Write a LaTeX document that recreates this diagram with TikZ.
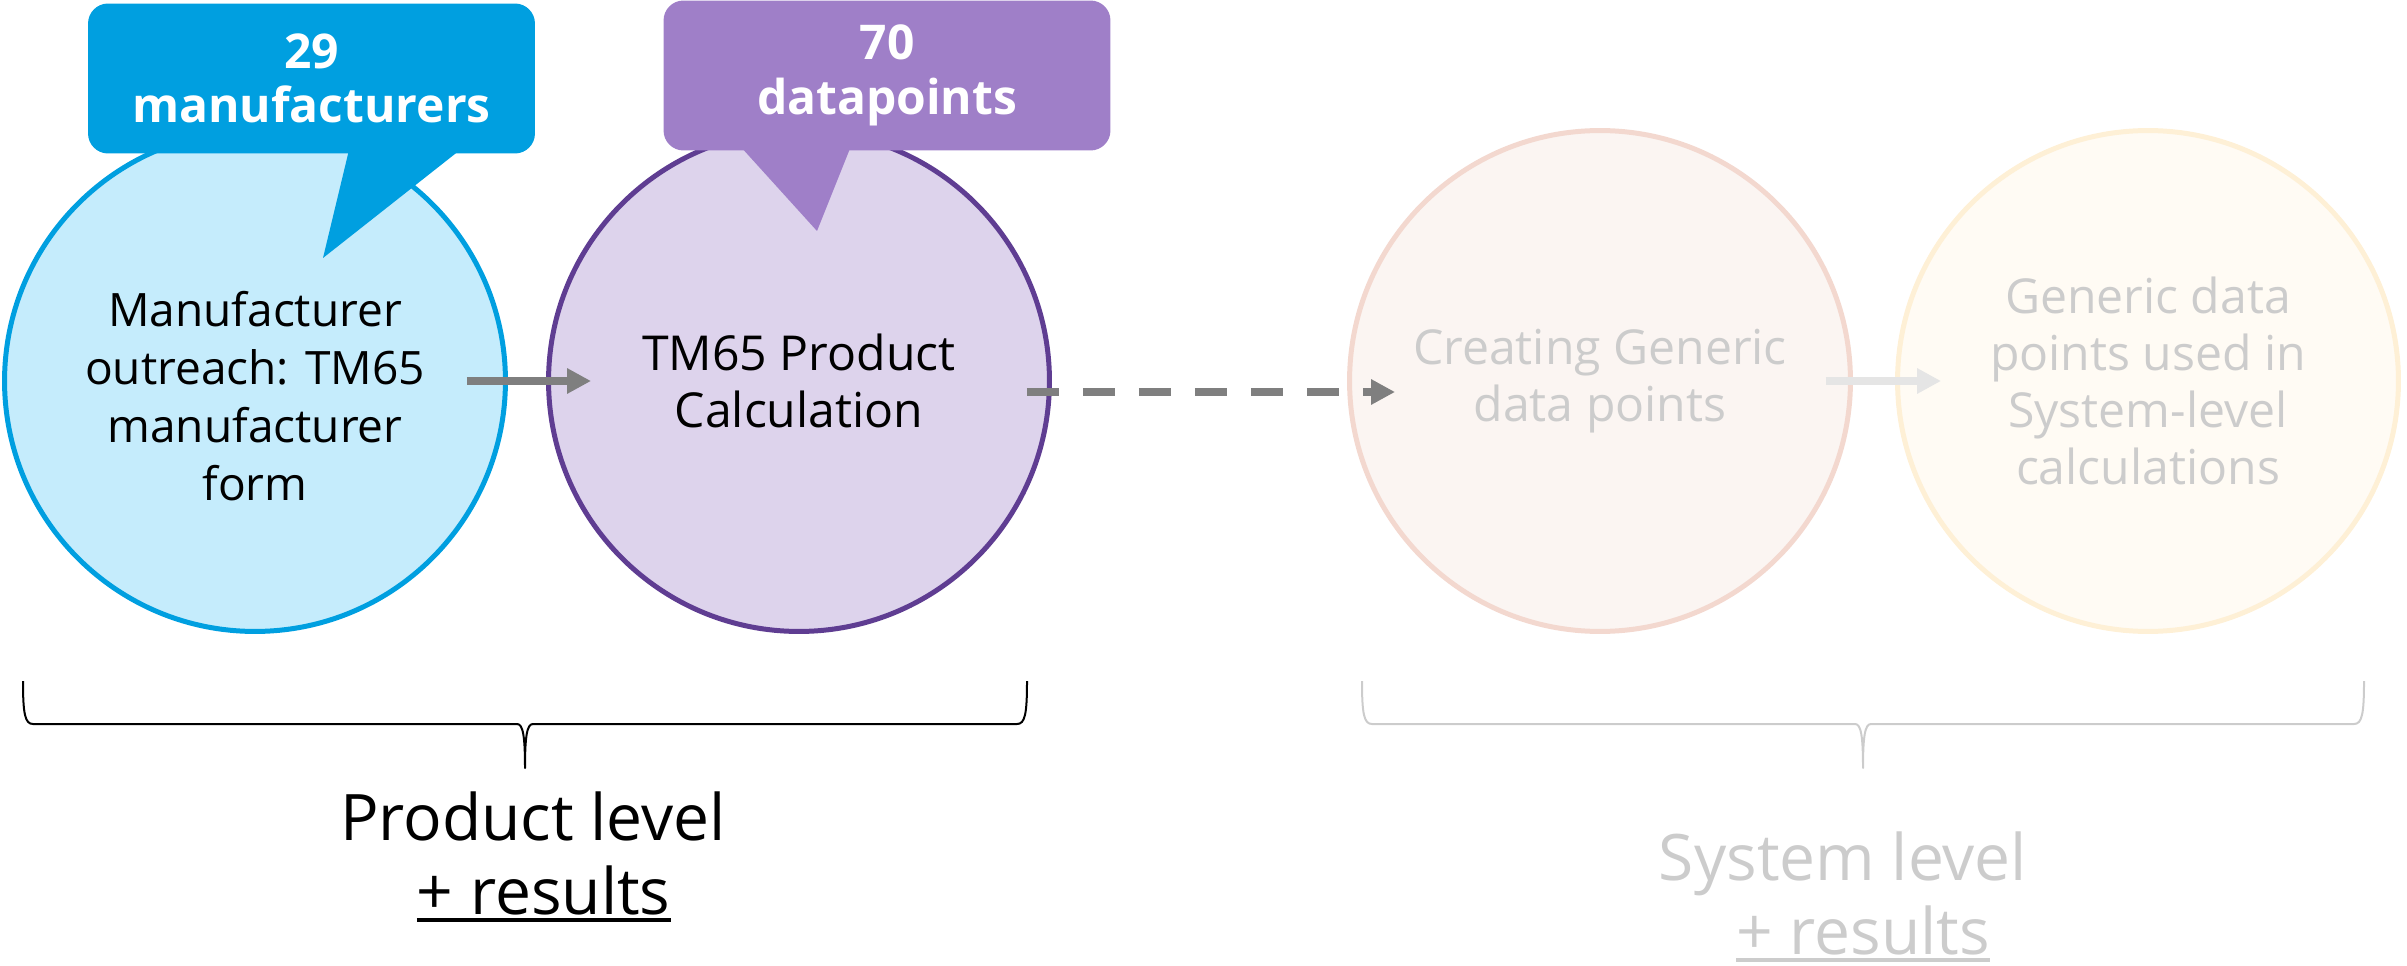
\documentclass[tikz,border=0pt]{standalone}
\usepackage{fontspec}
\setmainfont{Open Sans}
\usetikzlibrary{arrows.meta}
\definecolor{mblue}{HTML}{009FE0}
\definecolor{mbluefill}{HTML}{C5ECFC}
\definecolor{mpurple}{HTML}{5F3D92}
\definecolor{mpurplefill}{HTML}{DDD3EC}
\definecolor{mlilac}{HTML}{9F7FC8}
\definecolor{mrose}{HTML}{F3D8CF}
\definecolor{mrosefill}{HTML}{FBF5F2}
\definecolor{msand}{HTML}{FEF0D6}
\definecolor{msandfill}{HTML}{FFFBF4}
\definecolor{mgrey}{HTML}{7F7F7F}
\definecolor{mlight}{HTML}{E5E5E5}
\definecolor{mfaint}{HTML}{CCCCCC}
\newcommand{\ulined}[1]{\setbox0\hbox{#1}\rlap{\rule[-0.13em]{\wd0}{0.065em}}\box0}
\tikzset{
  stage/.style={circle, line width=0.1cm, minimum size=10.02cm, inner sep=0pt,
    align=center, font=\fontsize{27.4}{32.5}\selectfont},
  callout/.style={rounded corners=0.4cm, minimum width=8.94cm, minimum height=3cm,
    inner sep=0pt, align=center, text=white, font=\fontsize{27.3}{31}\selectfont\bfseries},
  flow/.style={line width=0.16cm, -{Triangle[length=0.48cm,width=0.48cm]}},
  brace/.style={line width=0.04cm, line join=round},
  level/.style={align=center, font=\fontsize{36.5}{42}\selectfont},
}

\begin{document}
\begin{tikzpicture}[x=0.02cm, y=-0.02cm]
\useasboundingbox (0,0) rectangle (2407,966);
\node[stage, draw=mblue, fill=mbluefill] (outreach) at (255,381) {};
\node[stage, draw=mpurple, fill=mpurplefill] (product) at (799,381) {};
\node[stage, draw=mrose, fill=mrosefill] (generic) at (1600,381) {};
\node[stage, draw=msand, fill=msandfill] (system) at (2148,381) {};
\node[stage, font=\fontsize{26.2}{33}\selectfont] at (255,396)
    {Manufacturer\\outreach: TM65\\manufacturer\\form};
\node[stage] at (799,381) {TM65 Product\\Calculation};
\node[stage, text=mfaint] at (1600,381) {Creating Generic\\data points};
\node[stage, text=mfaint] at (2148,381) {Generic data\\points used in\\System-level\\calculations};
\node[callout, fill=mblue] (makers) at (311.5,78.5) {29\\manufacturers};
\fill[mblue] (349,150) -- (323,258) -- (460,150) -- cycle;
\node[callout, fill=mlilac] (points) at (887,75.5) {70\\datapoints};
\fill[mlilac] (740,146) -- (817,231) -- (851,146) -- cycle;
\draw[flow, mgrey] ([xshift=-0.82cm]outreach.east) -- ([xshift=0.9cm]product.west);
\draw[flow, mgrey, dash pattern=on 0.64cm off 0.48cm]
    ([xshift=-0.5cm, yshift=-0.22cm]product.east) -- ([xshift=0.96cm, yshift=-0.22cm]generic.west);
\draw[flow, mlight] ([xshift=-0.54cm]generic.east) -- ([xshift=0.92cm]system.west);
\foreach \l/\m/\r/\c in {23/525/1027/black, 1362/1863/2364/mfaint} {
    \draw[brace, \c] (\l,681) .. controls (\l,714) and ({\l+2},724) .. ({\l+10},724)
        -- ({\m-8},724) .. controls ({\m-2},724) and (\m,736) .. (\m,768)
        .. controls (\m,736) and ({\m+2},724) .. ({\m+8},724)
        -- ({\r-10},724) .. controls ({\r-2},724) and (\r,714) .. (\r,681);
}
\node[level] (prodlevel) at (533,857) {Product level\\\hspace*{0.43cm}\ulined{+ results}};
\node[level, text=mfaint] (syslevel) at (1843,897) {System level\\\hspace*{0.8cm}\ulined{+ results}};
\end{tikzpicture}
\end{document}
